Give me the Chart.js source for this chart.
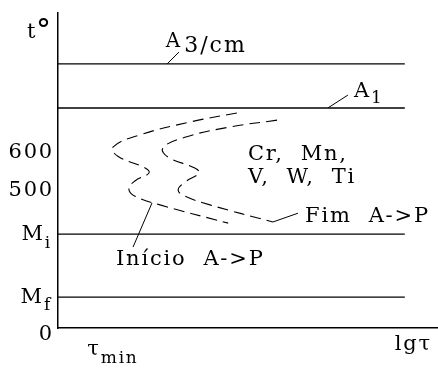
<!DOCTYPE html>
<html lang="pt">
<head>
<meta charset="utf-8">
<script src="https://cdn.jsdelivr.net/npm/chart.js@4.4.1/dist/chart.umd.min.js"></script>
<style>
  html, body { margin: 0; padding: 0; background: #fff; }
  #caixa { width: 438px; height: 383px; }
</style>
</head>
<body>
<div id="caixa"><canvas id="grafico"></canvas></div>
<script>
// níveis de temperatura das linhas horizontais (°C)
const niveisNomes = ["A3/cm", "A1", "Mi", "Mf"];
const niveisTemp = [832, 716, 384, 218];
const fimLinhas = 9.15; // lgτ onde as linhas acabam

// curva de início A->P (lgτ, t°)
const inicioLg = [4.72, 3.48, 2.16, 1.45, 1.58, 2.30, 2.40, 2.03, 1.87, 2.03, 2.69, 4.49];
const inicioT = [703, 679, 645, 613, 589, 558, 545, 524, 503, 484, 461, 413];

// curva de fim A->P
const fimLg = [5.78, 4.54, 3.35, 2.77, 2.90, 3.61, 3.72, 3.35, 3.17, 3.35, 4.01, 5.67];
const fimT = [684, 666, 639, 611, 587, 558, 545, 521, 500, 484, 461, 416];

// marcas numéricas do eixo t°
const ticksTemp = [600, 500];
const tempMin = 137;
const tempMax = 966;
const lgMax = 10;

const FONTE = '"DejaVu Serif", serif';
const TAM = 21;
const TAM_SUB = 17;
const ESPACO = "1.8px";

const pontos = (xs, ys) => xs.map((x, i) => ({ x, y: ys[i] }));

const linhaNivel = (t) => ({
  data: [{ x: 0, y: t }, { x: fimLinhas, y: t }],
  borderColor: "#000",
  borderWidth: 1.3,
  pointRadius: 0,
});

const tracejada = (xs, ys) => ({
  data: pontos(xs, ys),
  borderColor: "#000",
  borderWidth: 1.1,
  borderDash: [11, 6],
  tension: 0.45,
  pointRadius: 0,
});

const guia = (a, b) => ({
  data: [a, b],
  borderColor: "#000",
  borderWidth: 1,
  pointRadius: 0,
});

const texto = (ctx, s, x, y, tam, align = "left", base = "alphabetic") => {
  ctx.font = `${tam}px ${FONTE}`;
  ctx.textAlign = align;
  ctx.textBaseline = base;
  ctx.fillText(s, x, y);
};

// texto com índice (subscrito) logo a seguir
const comIndice = (ctx, s, sub, x, y, dy, tam, tamSub, alinhar = "left") => {
  ctx.font = `${tam}px ${FONTE}`;
  const w1 = ctx.measureText(s).width;
  ctx.font = `${tamSub}px ${FONTE}`;
  const w2 = ctx.measureText(sub).width;
  let x0 = x;
  if (alinhar === "right") x0 = x - w1 - w2;
  if (alinhar === "center") x0 = x - (w1 + w2) / 2;
  texto(ctx, s, x0, y, tam);
  texto(ctx, sub, x0 + w1, y + dy, tamSub);
};

const rotulos = {
  id: "rotulos",
  afterDatasetsDraw(chart) {
    const { ctx, chartArea: area, scales } = chart;
    const px = (v) => scales.x.getPixelForValue(v);
    const py = (v) => scales.y.getPixelForValue(v);
    ctx.save();
    ctx.fillStyle = "#000";
    ctx.letterSpacing = ESPACO;

    // eixo t°
    texto(ctx, "t", area.left - 31, area.top + 25, TAM);
    texto(ctx, "°", area.left - 22, area.top + 27, 30);
    ticksTemp.forEach((t) =>
      texto(ctx, String(t), area.left - 4, py(t), TAM, "right", "middle"),
    );
    comIndice(ctx, "M", "i", area.left - 6, py(niveisTemp[2]) + 6, 8, TAM, TAM_SUB, "right");
    comIndice(ctx, "M", "f", area.left - 6, py(niveisTemp[3]) + 6, 7, TAM, TAM_SUB, "right");
    texto(ctx, "0", area.left - 4, py(tempMin) + 7, TAM, "right", "middle");

    // eixo lgτ
    const lgMin = Math.min(...inicioLg);
    comIndice(ctx, "τ", "min", px(lgMin), area.bottom + 27, 8, TAM, TAM_SUB, "center");
    texto(ctx, "lgτ", area.right - 5, area.bottom + 22, TAM, "right");

    // nomes das linhas
    texto(ctx, "A", px(2.84), py(876), 20);
    ctx.letterSpacing = "2px";
    texto(ctx, "3/cm", px(3.33), py(863), 22);
    ctx.letterSpacing = ESPACO;
    comIndice(ctx, "A", "1", px(7.81), py(745), 6, TAM, TAM_SUB);

    // legendas internas
    texto(ctx, "Cr,  Mn,", px(5.01), py(579), TAM);
    texto(ctx, "V,  W,  Ti", px(5.01), py(518), TAM);
    texto(ctx, "Fim  A->P", px(6.52), py(416), TAM);
    texto(ctx, "Início  A->P", px(1.53), py(303), TAM);
    ctx.restore();
  },
};

new Chart(document.getElementById("grafico"), {
  type: "line",
  data: {
    datasets: [
      ...niveisTemp.map(linhaNivel),
      tracejada(inicioLg, inicioT),
      tracejada(fimLg, fimT),
      guia({ x: 2.88, y: 832 }, { x: 3.19, y: 863 }),
      guia({ x: 7.12, y: 716 }, { x: 7.65, y: 750 }),
      guia({ x: 5.67, y: 416 }, { x: 6.33, y: 439 }),
      guia({ x: 2.48, y: 466 }, { x: 1.98, y: 350 }),
    ],
  },
  options: {
    responsive: true,
    maintainAspectRatio: false,
    animation: false,
    layout: { padding: { left: 58, top: 13, right: 1, bottom: 55 } },
    plugins: { legend: { display: false }, tooltip: { enabled: false } },
    scales: {
      x: {
        type: "linear",
        min: 0,
        max: lgMax,
        grid: { display: false, drawTicks: false },
        ticks: { display: false },
        border: { display: true, color: "#000", width: 1.5 },
      },
      y: {
        type: "linear",
        min: tempMin,
        max: tempMax,
        grid: { display: false, drawTicks: false },
        ticks: { display: false },
        border: { display: true, color: "#000", width: 1.5 },
      },
    },
  },
  plugins: [rotulos],
});
</script>
</body>
</html>
